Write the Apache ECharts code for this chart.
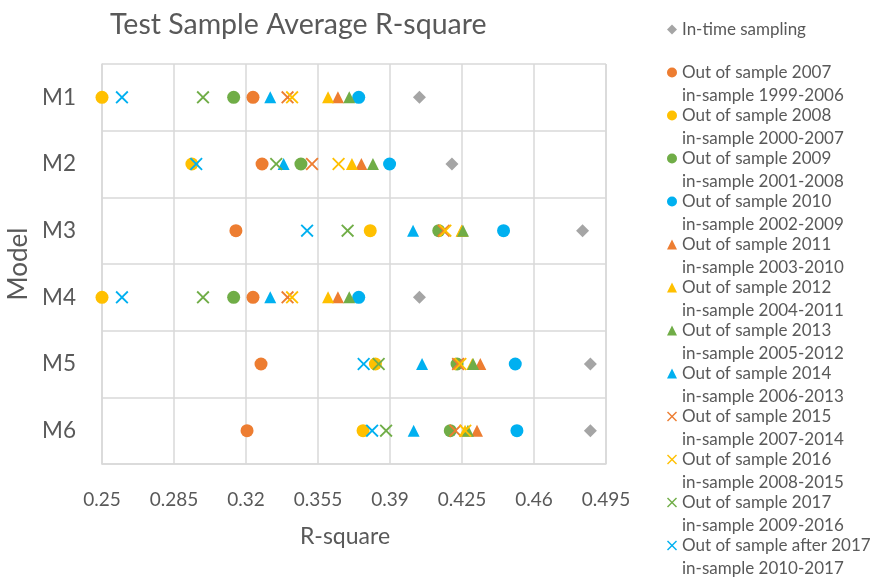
<!DOCTYPE html>
<html>
<head>
<meta charset="utf-8">
<script src="https://cdn.jsdelivr.net/npm/echarts@6/dist/echarts.min.js"></script>
<style>html,body{margin:0;padding:0;background:#fff}#c{width:874px;height:580px}</style>
</head>
<body>
<div id="c"></div>
<script>
const models = ['M1', 'M2', 'M3', 'M4', 'M5', 'M6'];
const xTicks = [0.25, 0.285, 0.32, 0.355, 0.39, 0.425, 0.46, 0.495];

const inTime  = [0.4043, 0.4201, 0.4836, 0.4043, 0.4874, 0.4874];
const oos2007 = [0.3234, 0.3278, 0.3151, 0.3234, 0.3273, 0.3205];
const oos2008 = [0.2500, 0.2937, 0.3804, 0.2500, 0.3829, 0.3769];
const oos2009 = [0.3140, 0.3467, 0.4137, 0.3140, 0.4226, 0.4193];
const oos2010 = [0.3748, 0.3898, 0.4452, 0.3748, 0.4509, 0.4517];
const oos2011 = [0.3647, 0.3761, 0.4250, 0.3647, 0.4339, 0.4323];
const oos2012 = [0.3599, 0.3715, 0.4248, 0.3599, 0.4300, 0.4265];
const oos2013 = [0.3702, 0.3817, 0.4255, 0.3702, 0.4304, 0.4279];
const oos2014 = [0.3318, 0.3383, 0.4012, 0.3318, 0.4056, 0.4015];
const oos2015 = [0.3402, 0.3521, 0.4161, 0.3402, 0.4231, 0.4218];
const oos2016 = [0.3424, 0.3650, 0.4169, 0.3424, 0.4242, 0.4266];
const oos2017 = [0.2991, 0.3347, 0.3694, 0.2991, 0.3845, 0.3881];
const oosAfter2017 = [0.2597, 0.2958, 0.3497, 0.2597, 0.3772, 0.3813];

const FONT = 'Lato, "Open Sans", sans-serif';
const GRAY = '#595959';
const C = {orange:'#ED7D31', yellow:'#FFC000', green:'#70AD47', blue:'#00B0F0', gray:'#A5A5A5'};
const XSYM = 'path://M1,0 L5,4 L9,0 L10,1 L6,5 L10,9 L9,10 L5,6 L1,10 L0,9 L4,5 L0,1 Z';

const seriesDefs = [
  {name:'In-time sampling', data:inTime, color:C.gray, symbol:'diamond', size:13},
  {name:'Out of sample 2007\nin-sample 1999-2006', data:oos2007, color:C.orange, symbol:'circle', size:13},
  {name:'Out of sample 2008\nin-sample 2000-2007', data:oos2008, color:C.yellow, symbol:'circle', size:13},
  {name:'Out of sample 2009\nin-sample 2001-2008', data:oos2009, color:C.green, symbol:'circle', size:13},
  {name:'Out of sample 2010\nin-sample 2002-2009', data:oos2010, color:C.blue, symbol:'circle', size:13},
  {name:'Out of sample 2011\nin-sample 2003-2010', data:oos2011, color:C.orange, symbol:'triangle', size:12},
  {name:'Out of sample 2012\nin-sample 2004-2011', data:oos2012, color:C.yellow, symbol:'triangle', size:12},
  {name:'Out of sample 2013\nin-sample 2005-2012', data:oos2013, color:C.green, symbol:'triangle', size:12},
  {name:'Out of sample 2014\nin-sample 2006-2013', data:oos2014, color:C.blue, symbol:'triangle', size:12},
  {name:'Out of sample 2015\nin-sample 2007-2014', data:oos2015, color:C.orange, symbol:XSYM, size:13},
  {name:'Out of sample 2016\nin-sample 2008-2015', data:oos2016, color:C.yellow, symbol:XSYM, size:13},
  {name:'Out of sample 2017\nin-sample 2009-2016', data:oos2017, color:C.green, symbol:XSYM, size:13},
  {name:'Out of sample after 2017\nin-sample 2010-2017', data:oosAfter2017, color:C.blue, symbol:XSYM, size:13}
];

const LH = 23;

const chart = echarts.init(document.getElementById('c'), null, {renderer:'canvas'});
chart.setOption({
  animation: false,
  backgroundColor: '#fff',
  title: {
    text: 'Test Sample Average R-square',
    left: 105, top: 5,
    textStyle: {fontFamily: FONT, fontSize: 28.5, fontWeight: 'normal', color: GRAY}
  },
  legend: {
    orient: 'vertical',
    left: 667, top: -5,
    padding: 0,
    itemGap: 43 - 3 * LH,
    itemWidth: 10, itemHeight: 10,
    data: seriesDefs.map(s => s.name),
    formatter: name => name.indexOf('\n') >= 0 ? ' \n' + name : ' \n' + name + '\n ',
    textStyle: {fontFamily: FONT, fontSize: 17, color: GRAY, lineHeight: LH}
  },
  grid: {left: 102, right: 268, top: 64, bottom: 116, containLabel: false, outerBoundsMode: 'none'},
  xAxis: {
    type: 'value',
    min: xTicks[0], max: xTicks[xTicks.length - 1], interval: xTicks[1] - xTicks[0],
    name: 'R-square', nameLocation: 'middle', nameGap: 61,
    nameTextStyle: {fontFamily: FONT, fontSize: 23, color: GRAY, padding: [0, 18, 0, 0]},
    axisLine: {show: true, lineStyle: {color: '#d9d9d9', width: 1.5}},
    axisTick: {show: false},
    axisLabel: {fontFamily: FONT, fontSize: 19, color: GRAY, margin: 26,
      formatter: v => String(+v.toFixed(3))},
    splitLine: {show: true, lineStyle: {color: '#d9d9d9', width: 1.5}}
  },
  yAxis: {
    type: 'category', data: models, inverse: true, boundaryGap: true,
    name: 'Model', nameLocation: 'middle', nameGap: 66, nameRotate: 90,
    nameTextStyle: {fontFamily: FONT, fontSize: 26, color: GRAY},
    axisLine: {show: true, lineStyle: {color: '#d9d9d9', width: 1.5}},
    axisTick: {show: false},
    axisLabel: {fontFamily: FONT, fontSize: 22.5, color: GRAY, margin: 26},
    splitLine: {show: true, lineStyle: {color: '#d9d9d9', width: 1.5}}
  },
  series: seriesDefs.map(s => ({
    type: 'scatter',
    name: s.name,
    data: s.data.map((v, i) => [v, models[i]]),
    symbol: s.symbol,
    symbolSize: s.size,
    itemStyle: {color: s.color, opacity: 1},
    emphasis: {disabled: true}
  }))
});
</script>
</body>
</html>
